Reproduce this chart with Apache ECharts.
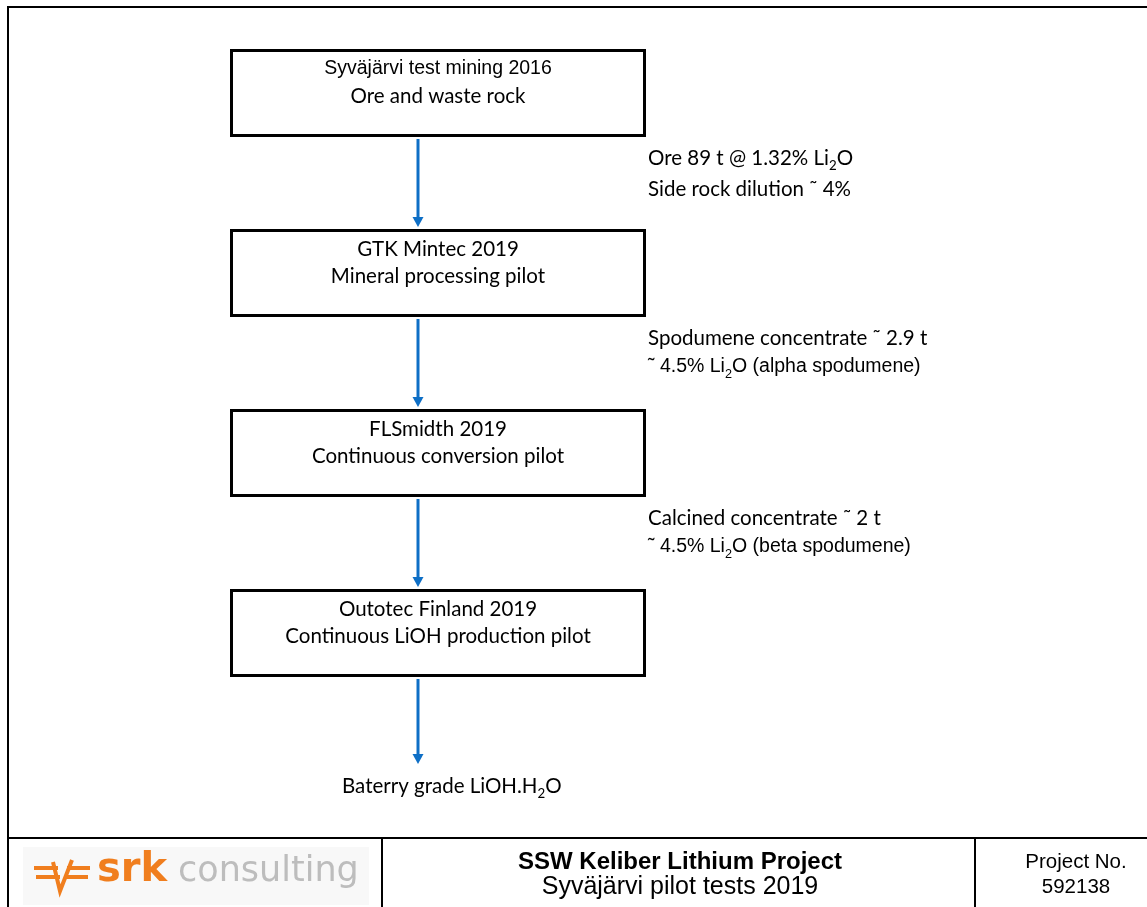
<!DOCTYPE html>
<html><head><meta charset="utf-8">
<script src="https://cdn.jsdelivr.net/npm/echarts@6.0.0/dist/echarts.min.js"></script>
<style>html,body{margin:0;padding:0;background:#fff}#c{width:1147px;height:907px}</style>
</head><body><div id="c"></div><script>
// ---- content (data) ----
const stepTitles = ['Syväjärvi test mining 2016', 'GTK Mintec 2019', 'FLSmidth 2019', 'Outotec Finland 2019'];
const stepSubtitles = ['Ore and waste rock', 'Mineral processing pilot', 'Continuous conversion pilot', 'Continuous LiOH production pilot'];
const flowLine1 = ['Ore 89 t @ 1.32% Li{sub|2}O', 'Spodumene concentrate ˜ 2.9 t', 'Calcined concentrate ˜ 2 t'];
const flowLine2 = ['Side rock dilution ˜ 4%', '˜ 4.5% Li{sub|2}O (alpha spodumene)', '˜ 4.5% Li{sub|2}O (beta spodumene)'];
const finalProduct = 'Baterry grade LiOH.H{sub|2}O';
const footerTitle = 'SSW Keliber Lithium Project';
const footerSubtitle = 'Syväjärvi pilot tests 2019';
const projectLabel = 'Project No.';
const projectNumber = '592138';
const logoBold = 'srk';
const logoLight = 'consulting';

// ---- styles ----
const CAL = 'Lato, "Open Sans", sans-serif';
const ARIAL = '"Liberation Sans", Arial, sans-serif';
const titleFonts = [ARIAL, CAL, CAL, CAL];
const line2Fonts = [CAL, ARIAL, ARIAL];
const BLUE = '#0E6FC6';
const ORANGE = '#F07E1E';

function fontSizeFor(f) { return f === CAL ? 20.5 : 19.5; }
function txt(x, y, s, fam, align) {
  const fs = fontSizeFor(fam);
  return {
    type: 'text',
    x: x, y: y,
    style: {
      text: s, fill: '#000', fontFamily: fam, fontSize: fs,
      align: align || 'center', verticalAlign: 'middle', lineHeight: 24,
      rich: { sub: { fontFamily: fam, fontSize: fs * 0.65, lineHeight: 12, verticalAlign: 'bottom', padding: [0, 0, -2, 0] } }
    }
  };
}

function renderItem(params, api) {
  const i = params.dataIndex;
  const c = api.coord([api.value(0), api.value(1)]);
  const cx = c[0], cy = c[1];
  const ch = [];
  ch.push({ type: 'rect', shape: { x: cx - 206.5, y: cy - 42.5, width: 413, height: 85 },
    style: { fill: '#fff', stroke: '#000', lineWidth: 3 } });
  ch.push(txt(cx, cy - 24, stepTitles[i], titleFonts[i]));
  ch.push(txt(cx, cy + 3.5, stepSubtitles[i], CAL));
  const ax = cx - 20;
  const y0 = cy + 46;
  let y1;
  if (i < stepTitles.length - 1) {
    const n = api.coord([api.value(0), i + 1]);
    y1 = n[1] - 46;
    ch.push(txt(cx + 210, cy + 65.5, flowLine1[i], CAL, 'left'));
    ch.push(txt(cx + 210, cy + (line2Fonts[i] === CAL ? 96 : 94), flowLine2[i], line2Fonts[i], 'left'));
  } else {
    y1 = cy + 131;
    ch.push(txt(cx - 96, cy + 153, finalProduct, CAL, 'left'));
  }
  ch.push({ type: 'line', shape: { x1: ax, y1: y0, x2: ax, y2: y1 - 8 }, style: { stroke: BLUE, lineWidth: 3 } });
  ch.push({ type: 'polygon', shape: { points: [[ax - 5.5, y1 - 10], [ax + 5.5, y1 - 10], [ax, y1]] }, style: { fill: BLUE } });
  return { type: 'group', children: ch };
}

const chart = echarts.init(document.getElementById('c'), null, { renderer: 'canvas' });
chart.setOption({
  animation: false,
  backgroundColor: '#fff',
  grid: { left: 0, right: 0, top: 3, bottom: 4 },
  xAxis: { type: 'value', min: 0, max: 1147, show: false },
  yAxis: { type: 'value', min: -0.5, max: 4.5, inverse: true, show: false },
  series: [{
    type: 'custom', clip: false,
    renderItem: renderItem,
    data: stepTitles.map((_, i) => [438, i])
  }],
  graphic: [
    { type: 'rect', shape: { x: 8, y: 7, width: 1160, height: 920 }, style: { fill: null, stroke: '#000', lineWidth: 2 }, silent: true },
    { type: 'line', shape: { x1: 8, y1: 838, x2: 1147, y2: 838 }, style: { stroke: '#000', lineWidth: 2 } },
    { type: 'line', shape: { x1: 382, y1: 838, x2: 382, y2: 907 }, style: { stroke: '#000', lineWidth: 2 } },
    { type: 'line', shape: { x1: 975, y1: 838, x2: 975, y2: 907 }, style: { stroke: '#000', lineWidth: 2 } },
    { type: 'rect', shape: { x: 23, y: 847, width: 346, height: 58 }, style: { fill: '#f8f8f8' } },
    // logo symbol
    { type: 'line', shape: { x1: 34, y1: 868, x2: 58, y2: 868 }, style: { stroke: ORANGE, lineWidth: 4 } },
    { type: 'line', shape: { x1: 36, y1: 877, x2: 60, y2: 877 }, style: { stroke: ORANGE, lineWidth: 4 } },
    { type: 'line', shape: { x1: 67, y1: 868, x2: 90, y2: 868 }, style: { stroke: ORANGE, lineWidth: 4 } },
    { type: 'line', shape: { x1: 65, y1: 877, x2: 88, y2: 877 }, style: { stroke: ORANGE, lineWidth: 4 } },
    { type: 'polyline', shape: { points: [[53, 862], [60, 891], [72, 860]] }, style: { stroke: ORANGE, lineWidth: 4, fill: null } },
    { type: 'text', x: 97, y: 871, style: { text: logoBold, fill: ORANGE, fontFamily: '"DejaVu Sans", sans-serif', fontWeight: 'bold', fontSize: 40, verticalAlign: 'middle' } },
    { type: 'text', x: 178, y: 872, style: { text: logoLight, fill: '#bdbdbd', fontFamily: '"DejaVu Sans", sans-serif', fontSize: 35, verticalAlign: 'middle' } },
    // footer texts
    { type: 'text', x: 680, y: 862, style: { text: footerTitle, fill: '#000', fontFamily: ARIAL, fontWeight: 'bold', fontSize: 24, align: 'center', verticalAlign: 'middle' } },
    { type: 'text', x: 680, y: 887, style: { text: footerSubtitle, fill: '#000', fontFamily: ARIAL, fontSize: 25, align: 'center', verticalAlign: 'middle' } },
    { type: 'text', x: 1076, y: 862, style: { text: projectLabel, fill: '#000', fontFamily: ARIAL, fontSize: 20.5, align: 'center', verticalAlign: 'middle' } },
    { type: 'text', x: 1076, y: 887, style: { text: projectNumber, fill: '#000', fontFamily: ARIAL, fontSize: 20.5, align: 'center', verticalAlign: 'middle' } }
  ]
});
</script></body></html>
